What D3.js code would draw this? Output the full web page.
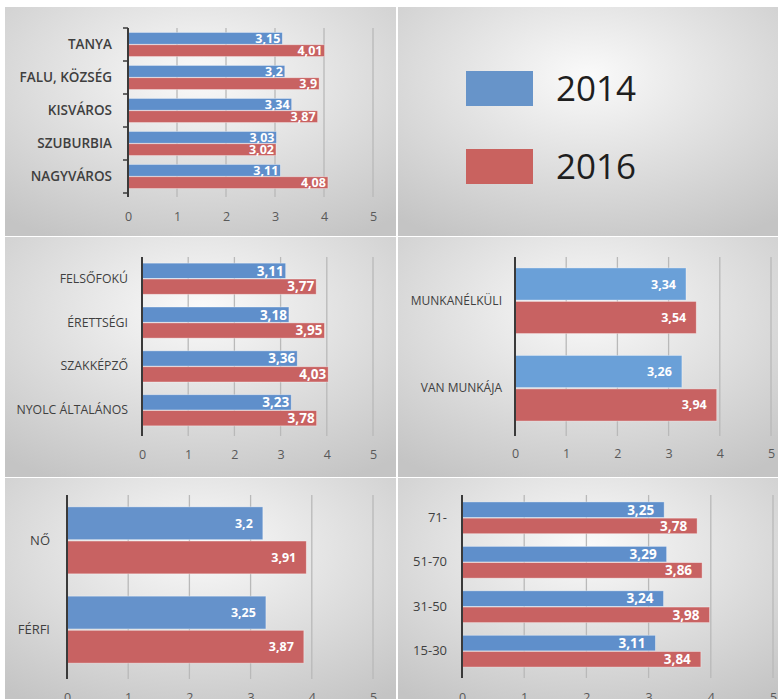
<!DOCTYPE html>
<html>
<head>
<meta charset="utf-8">
<script src="https://cdn.jsdelivr.net/npm/d3@7"></script>
<style>
html,body{margin:0;padding:0;background:#ffffff;}
svg{display:block;}
text{font-family:"Open Sans","DejaVu Sans",sans-serif;}
</style>
</head>
<body>
<svg id="chart" width="778" height="699"></svg>
<script>
// ---- data ----
const legendLabels = ["2014", "2016"];
const xTicks = [0, 1, 2, 3, 4, 5];

const settlementCats = ["TANYA", "FALU, KÖZSÉG", "KISVÁROS", "SZUBURBIA", "NAGYVÁROS"];
const settlement2014 = [3.15, 3.2, 3.34, 3.03, 3.11];
const settlement2016 = [4.01, 3.9, 3.87, 3.02, 4.08];

const educationCats = ["FELSŐFOKÚ", "ÉRETTSÉGI", "SZAKKÉPZŐ", "NYOLC ÁLTALÁNOS"];
const education2014 = [3.11, 3.18, 3.36, 3.23];
const education2016 = [3.77, 3.95, 4.03, 3.78];

const employmentCats = ["MUNKANÉLKÜLI", "VAN MUNKÁJA"];
const employment2014 = [3.34, 3.26];
const employment2016 = [3.54, 3.94];

const genderCats = ["NŐ", "FÉRFI"];
const gender2014 = [3.2, 3.25];
const gender2016 = [3.91, 3.87];

const ageCats = ["71-", "51-70", "31-50", "15-30"];
const age2014 = [3.25, 3.29, 3.24, 3.11];
const age2016 = [3.78, 3.86, 3.98, 3.84];

// ---- styling / layout ----
const BLUE = "#5f8fcb", RED = "#c86262";
const svg = d3.select("#chart");
const defs = svg.append("defs");
const grad = defs.append("radialGradient").attr("id", "bg")
  .attr("cx", "50%").attr("cy", "30%").attr("r", "80%");
grad.append("stop").attr("offset", "0%").attr("stop-color", "#fafafa");
grad.append("stop").attr("offset", "100%").attr("stop-color", "#c4c4c4");

const boxes = [
  [5, 7, 391, 229], [398, 7, 380, 229],
  [5, 237, 391, 240], [398, 237, 380, 240],
  [5, 478, 391, 230], [398, 478, 380, 230]
];
boxes.forEach(b => {
  svg.append("rect").attr("x", b[0]).attr("y", b[1]).attr("width", b[2]).attr("height", b[3])
    .attr("fill", "url(#bg)");
});

const fmt = v => String(v).replace(".", ",");

function panel(cfg) {
  const g = svg.append("g");
  const x = d3.scaleLinear().domain([0, 5]).range([cfg.x0, cfg.x5]);
  const y = d3.scaleBand().domain(cfg.cats).range([cfg.yTop, cfg.yBot])
    .paddingInner(cfg.pi).paddingOuter(cfg.po);
  const ys = d3.scaleBand().domain(legendLabels).range([0, y.bandwidth()]).paddingInner(0.04);

  // gridlines
  g.append("g").selectAll("line").data(xTicks.filter(t => t > 0)).join("line")
    .attr("x1", d => x(d)).attr("x2", d => x(d))
    .attr("y1", cfg.yTop).attr("y2", cfg.yBot + 4)
    .attr("stroke", "#b9b9b9").attr("stroke-width", 1.3);

  // x tick labels
  const ax = g.append("g").attr("transform", `translate(0,${cfg.tickY})`)
    .call(d3.axisBottom(x).tickValues(xTicks).tickSize(0).tickFormat(d3.format("d")));
  ax.select(".domain").remove();
  ax.selectAll("text").attr("y", 0).attr("dy", "0.35em")
    .attr("fill", "#595959").style("font-size", "12.5px").style("font-family", "'Open Sans',sans-serif");

  // bars
  const rows = cfg.cats.map((c, i) => ({cat: c, vals: [cfg.a[i], cfg.b[i]]}));
  const grp = g.append("g").selectAll("g").data(rows).join("g")
    .attr("transform", d => `translate(0,${y(d.cat)})`);
  const cells = grp.selectAll("g").data(d => d.vals.map((v, j) => ({k: legendLabels[j], v, j}))).join("g");
  cells.append("rect")
    .attr("x", x(0)).attr("y", d => ys(d.k))
    .attr("width", d => x(d.v) - x(0)).attr("height", ys.bandwidth())
    .attr("fill", d => d.j === 0 ? (cfg.blue || BLUE) : RED)
    .attr("stroke", "rgba(255,255,255,0.45)").attr("stroke-width", 0.8);
  cells.append("text")
    .attr("x", d => x(d.v) - cfg.valPad).attr("y", d => ys(d.k) + ys.bandwidth() / 2)
    .attr("dy", "0.36em").attr("text-anchor", "end")
    .attr("fill", "#ffffff").style("font-weight", "700").style("font-size", cfg.valSize + "px")
    .text(d => fmt(d.v));

  // category axis
  const ay = g.append("g").attr("transform", `translate(${cfg.x0},0)`)
    .call(d3.axisLeft(y).tickSize(0).tickPadding(cfg.x0 - cfg.labelX));
  ay.select(".domain").remove();
  ay.selectAll("text").attr("fill", "#3f3f3f")
    .style("font-size", cfg.catSize + "px").style("font-weight", cfg.catWeight || 400)
    .style("font-family", "'Open Sans',sans-serif");

  // axis line
  g.append("line").attr("x1", cfg.x0).attr("x2", cfg.x0)
    .attr("y1", cfg.yTop).attr("y2", cfg.yBot + 4)
    .attr("stroke", "#3a3a3a").attr("stroke-width", 2);
  if (cfg.brackets) {
    const step = y.step();
    const bounds = d3.range(cfg.cats.length + 1).map(i => cfg.yTop + i * step);
    g.append("g").selectAll("line").data(bounds).join("line")
      .attr("x1", cfg.x0 - 5).attr("x2", cfg.x0)
      .attr("y1", d => d).attr("y2", d => d)
      .attr("stroke", "#3a3a3a").attr("stroke-width", 1.5);
  }
}

panel({cats: settlementCats, a: settlement2014, b: settlement2016,
  x0: 128, x5: 373, yTop: 28, yBot: 193, labelX: 112, tickY: 217,
  pi: 0.27, po: 0.135, catSize: 13.5, catWeight: 600, valSize: 12.5, valPad: 2, brackets: true});

panel({cats: educationCats, a: education2014, b: education2016,
  x0: 142, x5: 373, yTop: 257, yBot: 432, labelX: 128, tickY: 455,
  pi: 0.29, po: 0.14, catSize: 12.3, valSize: 13.5, valPad: 2});

panel({cats: employmentCats, a: employment2014, b: employment2016, blue: "#6aa0d8",
  x0: 515, x5: 771, yTop: 257, yBot: 432, labelX: 502, tickY: 454,
  pi: 0.25, po: 0.125, catSize: 12, valSize: 12.5, valPad: 10});

panel({cats: genderCats, a: gender2014, b: gender2016, blue: "#6592cb",
  x0: 67, x5: 373, yTop: 495, yBot: 675, labelX: 50, tickY: 698,
  pi: 0.25, po: 0.133, catSize: 13, valSize: 12.5, valPad: 10});

panel({cats: ageCats, a: age2014, b: age2016,
  x0: 462, x5: 773, yTop: 495, yBot: 674, labelX: 447, tickY: 698,
  pi: 0.285, po: 0.156, catSize: 13, valSize: 13.5, valPad: 10});

// legend
const lg = svg.append("g");
const legendColors = ["#6794c9", "#c9625f"];
const ly = d3.scalePoint().domain(legendLabels).range([88, 166]);
lg.selectAll("rect").data(legendLabels).join("rect")
  .attr("x", 466).attr("y", d => ly(d) - 17).attr("width", 67).attr("height", 35)
  .attr("fill", (d, i) => legendColors[i]);
lg.selectAll("text").data(legendLabels).join("text")
  .attr("x", 556).attr("y", d => ly(d) + 12.5)
  .attr("fill", "#1e1e1e").style("font-size", "35px")
  .text(d => d);
</script>
</body>
</html>
